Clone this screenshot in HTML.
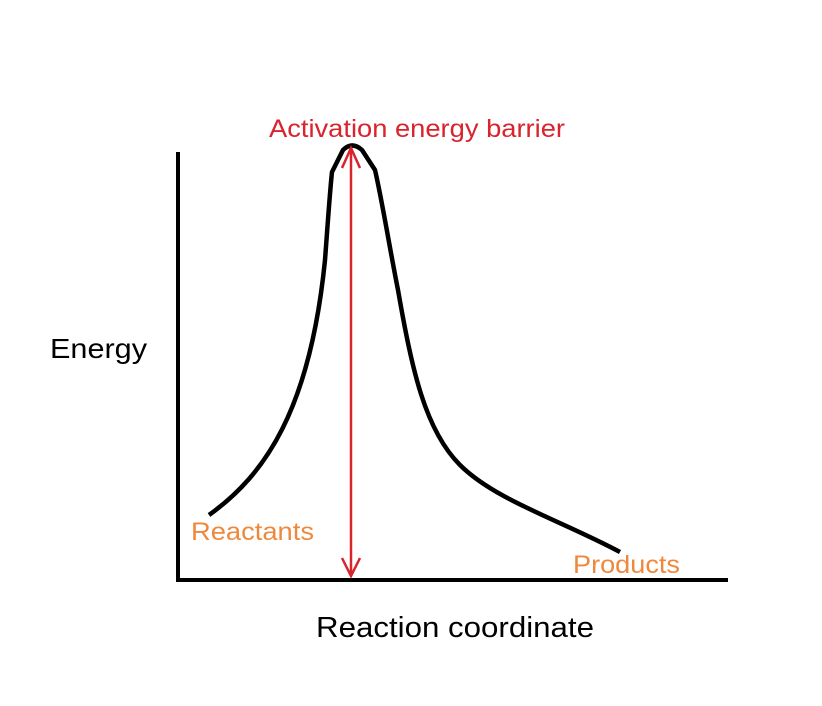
<!DOCTYPE html>
<html><head><style>body{margin:0;background:#fff}svg{display:block}</style></head>
<body>
<svg width="822" height="706" xmlns="http://www.w3.org/2000/svg" font-family="Liberation Sans, Arial, sans-serif">
<rect width="822" height="706" fill="#fff"/>
<line x1="178" y1="152" x2="178" y2="582" stroke="#000" stroke-width="4"/>
<line x1="176" y1="580" x2="728" y2="580" stroke="#000" stroke-width="4"/>
<path d="M209,515 C265,475 310,410 325,260 C328,220 330,190 332,172 L343,150 Q352,141 362,150 L375,170 C382,200 390,250 398,290 C412,370 425,430 460,465 C495,500 560,520 620,552" fill="none" stroke="#000" stroke-width="4.5" stroke-linejoin="round"/>
<line x1="351" y1="148" x2="351" y2="576" stroke="#d9232d" stroke-width="2.5"/>
<polyline points="342,168 351,148 360,168" fill="none" stroke="#d9232d" stroke-width="2.5"/>
<polyline points="342,558 351,576 360,558" fill="none" stroke="#d9232d" stroke-width="2.5"/>
<text x="269" y="137" font-size="25" fill="#d9232d" textLength="296" lengthAdjust="spacingAndGlyphs">Activation energy barrier</text>
<text x="50" y="358" font-size="28" fill="#000" textLength="97" lengthAdjust="spacingAndGlyphs">Energy</text>
<text x="191" y="540" font-size="25" fill="#f0883c" textLength="123" lengthAdjust="spacingAndGlyphs">Reactants</text>
<text x="573" y="573" font-size="25" fill="#f0883c" textLength="107" lengthAdjust="spacingAndGlyphs">Products</text>
<text x="316" y="637" font-size="29" fill="#000" textLength="278" lengthAdjust="spacingAndGlyphs">Reaction coordinate</text>
</svg>
</body></html>
